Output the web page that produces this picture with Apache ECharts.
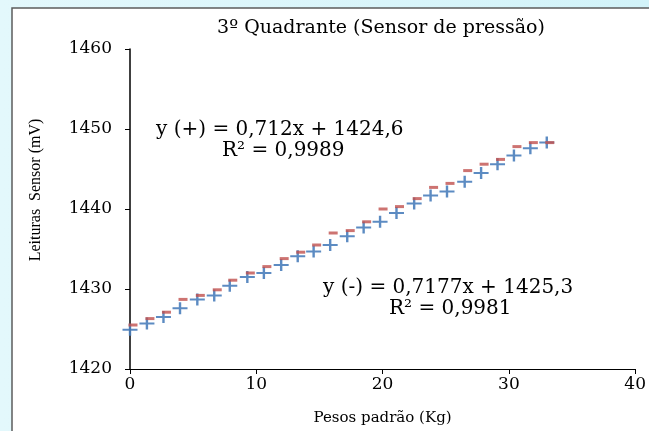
<!DOCTYPE html>
<html>
<head>
<meta charset="utf-8">
<script src="https://cdn.jsdelivr.net/npm/echarts@6/dist/echarts.min.js"></script>
<style>
	html, body { margin: 0; padding: 0; }
	body { background: linear-gradient(to right, #e3f8fc, #d2f3f9); }
	#chart { width: 649px; height: 431px; }
</style>
</head>
<body>
<div id="chart"></div>
<script>
	// pesos padrao (Kg) - eixo x
	var pesos = [0, 1.34, 2.65, 3.96, 5.33, 6.67, 7.9, 9.29, 10.6, 11.97, 13.28, 14.54, 15.85,
		17.2, 18.5, 19.8, 21.1, 22.5, 23.8, 25.1, 26.5, 27.8, 29.1, 30.4, 31.7, 33.0];

	// leituras do sensor (mV)
	var leiturasMais = [1424.9, 1425.7, 1426.5, 1427.6, 1428.7, 1429.2, 1430.4, 1431.5, 1432.0, 1433.0, 1434.1, 1434.7, 1435.5,
		1436.6, 1437.7, 1438.4, 1439.5, 1440.7, 1441.7, 1442.2, 1443.4, 1444.5, 1445.6, 1446.7, 1447.6, 1448.3];
	var leiturasMenos = [1425.5, 1426.3, 1427.1, 1428.7, 1429.2, 1429.9, 1431.1, 1432.0, 1432.8, 1433.8, 1434.6, 1435.5, 1437.0,
		1437.3, 1438.4, 1440.0, 1440.3, 1441.3, 1442.7, 1443.2, 1444.8, 1445.6, 1446.2, 1447.8, 1448.3, 1448.3];

	var xTicks = [0, 10, 20, 30, 40];
	var yTicks = [1420, 1430, 1440, 1450, 1460];

	var equacaoMais = ['y (+) = 0,712x + 1424,6', 'R² = 0,9989'];
	var equacaoMenos = ['y (-) = 0,7177x + 1425,3', 'R² = 0,9981'];

	// the original is stretched sideways, a wide serif copes with it
	var serifLargo = '"DejaVu Serif", serif';
	var serif = '"Liberation Serif", "Times New Roman", serif';

	function pares(xs, ys){
		var out = [];
		xs.forEach(function(x, i){
			out.push([x, ys[i]]);
		});
		return out;
	}

	var chart = echarts.init(document.getElementById('chart'));

	// cross marker as filled polygon
	var plusPath = 'path://M6.3,0h2.4v5h6.3v2h-6.3v5h-2.4v-5h-6.3v-2h6.3z';

	var options = {
		backgroundColor: 'transparent',
		animation: false,
		title: {
			text: '3º Quadrante (Sensor de pressão)',
			left: 376,
			textAlign: 'center',
			top: 14,
			textStyle: {
				fontFamily: serifLargo,
				fontSize: 19,
				fontWeight: 'normal',
				color: '#000'
			}
		},
		grid: {
			left: 130,
			right: 13,
			top: 49,
			bottom: 59
		},
		graphic: [
			{
				type: 'rect',
				z: -10,
				shape: { x: 12, y: 8, width: 660, height: 450 },
				style: { fill: '#fff', stroke: '#5c5c5c', lineWidth: 1.5 }
			},
			{
				type: 'text',
				left: 156,
				top: 120,
				style: { text: equacaoMais[0], font: '20px ' + serifLargo, fill: '#000' }
			},
			{
				type: 'text',
				left: 222,
				top: 141,
				style: { text: equacaoMais[1], font: '20px ' + serifLargo, fill: '#000' }
			},
			{
				type: 'text',
				left: 323,
				top: 278,
				style: { text: equacaoMenos[0], font: '20px ' + serifLargo, fill: '#000' }
			},
			{
				type: 'text',
				left: 389,
				top: 299,
				style: { text: equacaoMenos[1], font: '20px ' + serifLargo, fill: '#000' }
			}
		],
		xAxis: {
			type: 'value',
			min: xTicks[0],
			max: xTicks[xTicks.length - 1],
			interval: 10,
			name: 'Pesos padrão (Kg)',
			nameLocation: 'middle',
			nameGap: 42,
			nameTextStyle: { fontFamily: serifLargo, fontSize: 15, color: '#000' },
			axisLine: { lineStyle: { color: '#000', width: 1 } },
			axisTick: { show: true, length: 5, lineStyle: { color: '#000' } },
			axisLabel: { fontFamily: serifLargo, fontSize: 17, color: '#000', margin: 7 },
			splitLine: { show: false }
		},
		yAxis: {
			type: 'value',
			min: yTicks[0],
			max: yTicks[yTicks.length - 1],
			interval: 10,
			name: 'Leituras  Sensor (mV)',
			nameLocation: 'middle',
			nameGap: 86,
			nameTextStyle: { fontFamily: serif, fontSize: 16, color: '#000', padding: [0, 0, 0, 38] },
			axisLine: { show: true, lineStyle: { color: '#000', width: 1.5 } },
			axisTick: { show: true, length: 5, lineStyle: { color: '#000' } },
			axisLabel: {
				fontFamily: serifLargo, fontSize: 17, color: '#000', margin: 18,
				formatter: function(v){ return String(v); }
			},
			splitLine: { show: false }
		},
		series: [
			{
				name: '+',
				type: 'scatter',
				data: pares(pesos, leiturasMais),
				symbol: plusPath,
				symbolSize: [15, 12],
				itemStyle: { color: '#4a7ebb', opacity: 0.9 },
				z: 3
			},
			{
				name: '-',
				type: 'scatter',
				data: pares(pesos, leiturasMenos),
				symbol: 'rect',
				symbolSize: [9, 3],
				symbolOffset: [3, 0],
				itemStyle: { color: '#c0504d' },
				z: 4
			}
		]
	};

	chart.setOption(options);
</script>
</body>
</html>
